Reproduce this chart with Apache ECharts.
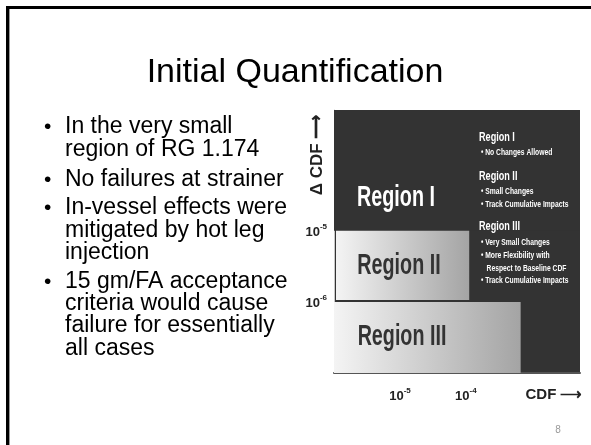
<!DOCTYPE html>
<html><head><meta charset="utf-8">
<script src="https://cdn.jsdelivr.net/npm/echarts@6/dist/echarts.min.js"></script>
<style>html,body{margin:0;padding:0;background:#fff}#c{width:591px;height:445px}</style>
</head><body><div id="c"></div>
<script>
// ---- data (log10 of CDF / delta CDF) ----
const regionNames = ['Region I', 'Region II', 'Region III'];
const regionXStart = [-6, -6, -6];
const regionXEnd = [-2.27, -3.95, -3.17];
const regionYLow = [-5, -6, -7];
const regionYHigh = [-3.3, -5, -6];
const xTickValues = [-5, -4];
const yTickValues = [-5, -6];
const titleText = 'Initial Quantification';
const bulletLines = [
  ['In the very small', 'region of RG 1.174'],
  ['No failures at strainer'],
  ['In-vessel effects were', 'mitigated by hot leg', 'injection'],
  ['15 gm/FA acceptance', 'criteria would cause', 'failure for essentially', 'all cases']
];
const legendBlocks = [
  ['Region I', ['No Changes Allowed']],
  ['Region II', ['Small Changes', 'Track Cumulative Impacts']],
  ['Region III', ['Very Small Changes', 'More Flexibility with', '  Respect to Baseline CDF', 'Track Cumulative Impacts']]
];

const NARROW = '"Liberation Sans Narrow", "Arial Narrow", "Liberation Sans", sans-serif';
const SANS = '"Liberation Sans", Arial, sans-serif';

const chart = echarts.init(document.getElementById('c'), null, {renderer: 'canvas'});

const graphics = [];
// slide border (top and left)
graphics.push({type: 'line', shape: {x1: 6, y1: 7.5, x2: 591, y2: 7.5}, style: {stroke: '#000', lineWidth: 3}});
graphics.push({type: 'line', shape: {x1: 7.5, y1: 6, x2: 7.5, y2: 445}, style: {stroke: '#000', lineWidth: 3}});
graphics.push({type: 'line', shape: {x1: 9.5, y1: 9, x2: 9.5, y2: 445}, style: {stroke: '#999', lineWidth: 1}});
// title
graphics.push({type: 'text', x: 295, y: 73, style: {text: titleText, font: '34px ' + SANS, fill: '#000', textAlign: 'center', textVerticalAlign: 'middle'}});
// bullets
const bulletY = [[127, 150], [180], [208, 231, 253], [282, 304, 326, 349]];
bulletLines.forEach((lines, bi) => {
  graphics.push({type: 'text', x: 44, y: bulletY[bi][0], style: {text: '•', font: '21px ' + SANS, fill: '#000', textVerticalAlign: 'middle'}});
  lines.forEach((t, li) => {
    graphics.push({type: 'text', x: 65, y: bulletY[bi][li], style: {text: t, font: '23px ' + SANS, fill: '#000', textVerticalAlign: 'middle'}});
  });
});
// legend-like text block on the dark area
const headY = [137, 176, 226];
const itemY = [[152], [191, 204], [242, 255, 268, 280]];
legendBlocks.forEach((blk, bi) => {
  graphics.push({type: 'text', x: 479, y: headY[bi], scaleX: 0.7, originX: 0, style: {text: blk[0], font: 'bold 13px ' + NARROW, fill: '#fff', textVerticalAlign: 'middle'}, z: 10});
  blk[1].forEach((t, li) => {
    const txt = t.startsWith('  ') ? '   ' + t.trim() : '• ' + t;
    graphics.push({type: 'text', x: 481, y: itemY[bi][li], scaleX: 0.71, originX: 0, style: {text: txt, font: 'bold 9.5px ' + NARROW, fill: '#fff', textVerticalAlign: 'middle'}, z: 10});
  });
});
// axis names
graphics.push({type: 'text', x: 554, y: 395, style: {text: 'CDF ⟶', font: 'bold 15px ' + NARROW, fill: '#222', textAlign: 'center', textVerticalAlign: 'middle'}});
graphics.push({type: 'text', x: 317, y: 155, rotation: Math.PI / 2, style: {text: 'Δ CDF ⟶', font: 'bold 17px ' + NARROW, fill: '#222', textAlign: 'center', textVerticalAlign: 'middle'}});
// page number
graphics.push({type: 'text', x: 558, y: 430, style: {text: '8', font: '10px ' + SANS, fill: '#999', textAlign: 'center', textVerticalAlign: 'middle'}});

const supLabel = {
  formatter: v => '{b|10}{s|' + v + '}',
  rich: {
    b: {fontFamily: NARROW, fontWeight: 'bold', fontSize: 13, color: '#222', lineHeight: 16, verticalAlign: 'bottom'},
    s: {fontFamily: NARROW, fontWeight: 'bold', fontSize: 8, color: '#222', lineHeight: 16, verticalAlign: 'top'}
  }
};

const labelOffsetY = [28, 0, 0];
chart.setOption({
  animation: false,
  backgroundColor: '#fff',
  grid: {left: 334, right: 11, top: 110, bottom: 72, show: true, backgroundColor: '#333', borderWidth: 0},
  xAxis: {
    type: 'value', min: -6, max: -2.27,
    axisLine: {show: true, lineStyle: {color: '#555', width: 2}},
    axisTick: {show: false}, splitLine: {show: false},
    axisLabel: Object.assign({customValues: xTickValues, margin: 14}, supLabel)
  },
  yAxis: {
    type: 'value', min: -7, max: -3.3,
    axisLine: {show: true, lineStyle: {color: '#c8c8c8', width: 1}},
    axisTick: {show: false}, splitLine: {show: false},
    axisLabel: Object.assign({customValues: yTickValues, margin: 7}, supLabel)
  },
  series: [{
    type: 'custom',
    clip: false,
    data: regionNames.map((n, i) => [regionXStart[i], regionXEnd[i], regionYLow[i], regionYHigh[i], n]),
    renderItem: (params, api) => {
      const i = params.dataIndex;
      const p0 = api.coord([api.value(0), api.value(3)]);
      const p1 = api.coord([api.value(1), api.value(2)]);
      const insetL = i === 1 ? 2 : 0, insetB = i === 1 ? 2 : 0;
      const fill = i === 0 ? '#333' : new echarts.graphic.LinearGradient(0, 0, 1, 0, [
        {offset: 0, color: '#f4f4f4'}, {offset: 1, color: '#a4a4a4'}]);
      return {
        type: 'group',
        children: [
          {type: 'rect', shape: {x: p0[0] + insetL, y: p0[1], width: p1[0] - p0[0] - insetL, height: p1[1] - p0[1] - insetB}, style: {fill: fill}},
          {type: 'text', x: p0[0] + 62 + i * 3, y: (p0[1] + p1[1]) / 2 + labelOffsetY[i], scaleX: 0.68, originX: 0,
           style: {text: api.value(4), font: 'bold 29px ' + NARROW, fill: i === 0 ? '#fff' : '#333', textAlign: 'center', textVerticalAlign: 'middle'}}
        ]
      };
    }
  }],
  graphic: graphics
});
</script></body></html>
